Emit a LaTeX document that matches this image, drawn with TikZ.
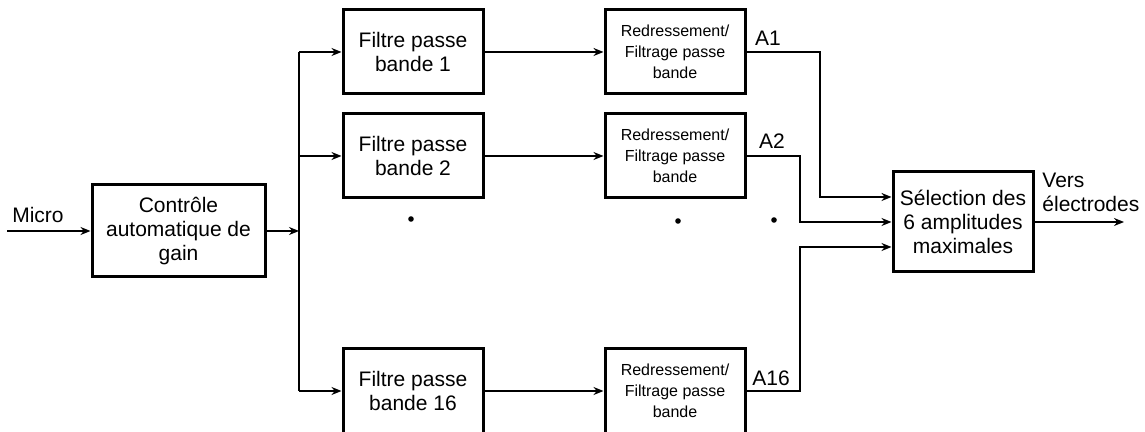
\documentclass[tikz,border=0pt]{standalone}
\usepackage{fontspec}
\setmainfont{Liberation Sans}
\usetikzlibrary{calc,arrows.meta}
\definecolor{tipgray}{RGB}{110,110,110}
\tikzset{
  bloc/.style={draw,line width=1.5pt,align=center,inner sep=0pt,
    minimum width=70pt,minimum height=42pt,
    font=\fontsize{10.5}{12}\selectfont},
  petitbloc/.style={bloc,font=\fontsize{8}{10.5}\selectfont},
  fil/.style={line width=1pt},
  fleche/.style={fil,-{Stealth[length=5pt,width=4pt,fill=tipgray]}},
  etiq/.style={font=\fontsize{10.5}{12}\selectfont,inner sep=0pt},
  pt/.style={fill,circle,inner sep=0pt,minimum size=2.8pt},
}
\newcommand{\voie}[3]{%
  \node[bloc] (f#1) at (413,#2) {Filtre passe\\bande #1};
  \node[petitbloc] (r#1) at (675,#2) {Redressement/\\Filtrage passe\\bande};
  \draw[fleche] (bus |- f#1.west) -- (f#1.west);
  \draw[fleche] (f#1.east) -- (r#1.west);
  \node[etiq] (a#1) at (#3) {A#1};}
\begin{document}
\begin{tikzpicture}[x=0.5pt,y=-0.5pt]
  \useasboundingbox (0,0) rectangle (1145,432);
  % entree et CAG
  \node[bloc,minimum width=86.5pt,minimum height=46pt] (cag) at (178.5,231)
       {Contr\^ole\\automatique de\\gain};
  \coordinate (mic) at (7,231);
  \node[etiq] (lmic) at (38,215) {Micro};
  \draw[fleche] (mic) -- (cag.west);
  \coordinate (bus) at (299,231);
  \draw[fleche] (cag.east) -- (bus);
  % les voies
  \voie{1}{52}{768,38}
  \voie{2}{156}{772,141}
  \voie{16}{391}{771,378}
  \draw[fil] (bus |- f1.west) -- (bus |- f16.west);
  \node[pt] (d1) at (411,219) {};
  \node[pt] (d2) at (678,221) {};
  \node[pt] (d3) at (774,220) {};
  % selection
  \node[bloc,minimum height=50pt] (sel) at (963,222)
       {S\'election des\\6 amplitudes\\maximales};
  \draw[fleche] (r1.east) -- (820,52) |- ([yshift=12.5pt]sel.west);
  \draw[fleche] (r2.east) -- (800,156) |- (sel.west);
  \draw[fleche] (r16.east) -- (800,391) |- ([yshift=-12.5pt]sel.west);
  \coordinate (sortie) at (1124,222);
  \draw[fleche] (sel.east) -- (sortie);
  \node[etiq,align=left,anchor=north west] (vers) at (1042,173)
       {Vers\\\'electrodes};
\end{tikzpicture}
\end{document}
